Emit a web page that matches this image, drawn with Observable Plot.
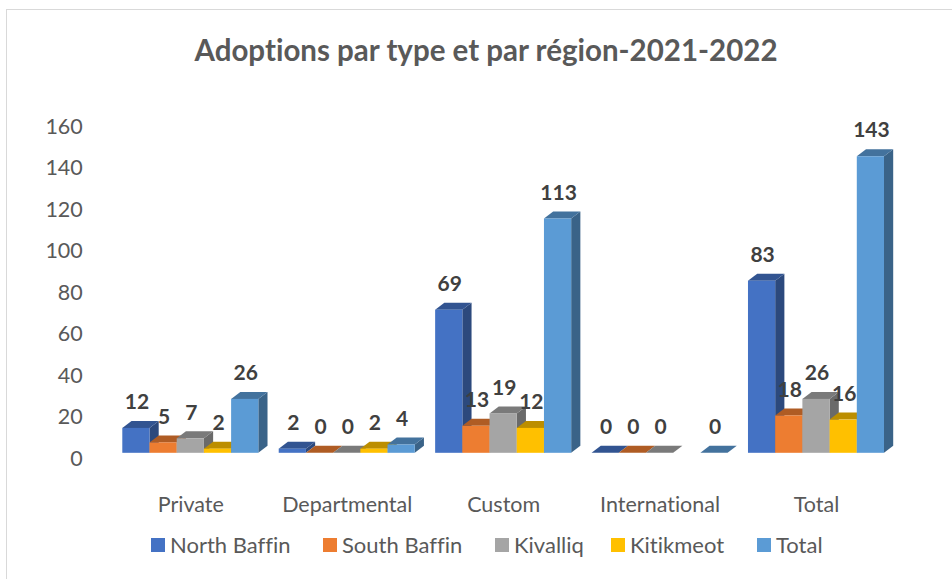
<!DOCTYPE html>
<html>
<head>
<meta charset="utf-8">
<script src="https://cdn.jsdelivr.net/npm/d3@7"></script>
<script src="https://cdn.jsdelivr.net/npm/@observablehq/plot@0.6"></script>
<style>
  html, body { margin: 0; padding: 0; background: #fff; }
  #page { position: relative; width: 952px; height: 579px; overflow: hidden; font-family: Lato, sans-serif; font-variant-ligatures: none; }
  #frame { position: absolute; left: 6px; top: 9px; width: 960px; height: 600px; border: 1px solid #d9d9d9; box-sizing: border-box; }
  #title { position: absolute; left: 0; top: 30px; width: 972px; text-align: center; font-size: 29.5px; font-weight: 700; color: #595959; line-height: 40px; }
  #chart { position: absolute; left: 0; top: 90px; }
  #legend { position: absolute; left: 0; top: 530px; width: 952px; height: 30px; font-size: 22px; color: #595959; line-height: 30px; }
  #legend span.k { position: absolute; top: 0; white-space: nowrap; }
  #legend i { position: absolute; top: 8px; width: 14px; height: 14px; }
</style>
</head>
<body>
<div id="page">
  <div id="frame"></div>
  <div id="title">Adoptions par type et par région-2021-2022</div>
  <div id="chart"></div>
  <div id="legend"></div>
</div>
<script>
const types = ["Private", "Departmental", "Custom", "International", "Total"];
const regions = ["North Baffin", "South Baffin", "Kivalliq", "Kitikmeot", "Total"];
const colors = ["#4472c4", "#ed7d31", "#a5a5a5", "#ffc000", "#5b9bd5"];
const northBaffin = [12, 2, 69, 0, 83];
const southBaffin = [5, 0, 13, 0, 18];
const kivalliq = [7, 0, 19, 0, 26];
const kitikmeot = [2, 2, 12, null, 16];
const totalSeries = [26, 4, 113, 0, 143];
const yTicks = [0, 20, 40, 60, 80, 100, 120, 140, 160];
const legendLeft = [151, 323, 495, 611, 757];

const seriesValues = [northBaffin, southBaffin, kivalliq, kitikmeot, totalSeries];
const rows = [];
regions.forEach((r, ri) => types.forEach((t, ti) => {
  const v = seriesValues[ri][ti];
  if (v != null) rows.push({type: t, region: r, value: v});
}));

const depthX = 9.2, depthY = 7;
const shade = (c, k) => d3.color(c).darker(k).formatHex();
function withDepth(index, scales, values, dimensions, context, next) {
  const g = next(index, scales, values, dimensions, context);
  const ns = "http://www.w3.org/2000/svg";
  const rects = Array.from(g.querySelectorAll("rect"));
  rects.forEach(rect => {
    const x = +rect.getAttribute("x"), y = +rect.getAttribute("y");
    const w = +rect.getAttribute("width"), h = +rect.getAttribute("height");
    const fill = rect.getAttribute("fill");
    const tx = rect.getAttribute("transform");
    const add = (pts, col) => {
      const p = document.createElementNS(ns, "polygon");
      p.setAttribute("points", pts.map(a => a.join(",")).join(" "));
      p.setAttribute("fill", col);
      if (tx) p.setAttribute("transform", tx);
      rect.parentNode.insertBefore(p, rect);
    };
    add([[x + w, y], [x + w + depthX, y - depthY], [x + w + depthX, y + h - depthY], [x + w, y + h]], shade(fill, 1.25));
    add([[x, y], [x + depthX, y - depthY], [x + w + depthX, y - depthY], [x + w, y]], shade(fill, 0.85));
  });
  return g;
}

const plot = Plot.plot({
  width: 952,
  height: 430,
  marginLeft: 122.3,
  marginRight: 68,
  marginTop: 20,
  marginBottom: 40,
  style: {background: "transparent", fontFamily: "Lato, sans-serif", fontVariantLigatures: "none"},
  fx: {domain: types, padding: 0.1304, round: false, axis: null},
  x: {domain: regions, padding: 0, round: false, axis: null},
  y: {domain: [0, 160], range: [362.8, 31], axis: null},
  color: {domain: regions, range: colors},
  marks: [
    Plot.barY(rows, {fx: "type", x: "region", y1: () => 0, y2: "value", fill: "region", render: withDepth}),
    Plot.text(rows, {fx: "type", x: "region", y: "value", text: d => String(d.value), dy: -26, dx: 0.5, fontSize: 21, fontWeight: 700, fill: "#404040"}),
    Plot.axisY(yTicks, {anchor: "left", tickSize: 0, tickPadding: 0, dx: -40, dy: 5.5, fontSize: 21.5, fill: "#595959", tickFormat: d => String(d), label: null}),
    Plot.axisFx({anchor: "bottom", tickSize: 0, tickPadding: 0, dy: 16, fontSize: 21.5, fill: "#595959", label: null})
  ]
});
document.getElementById("chart").appendChild(plot);

const legend = document.getElementById("legend");
regions.forEach((r, i) => {
  const sw = document.createElement("i");
  sw.style.left = legendLeft[i] + "px";
  sw.style.background = colors[i];
  legend.appendChild(sw);
  const s = document.createElement("span");
  s.className = "k";
  s.style.left = (legendLeft[i] + 19) + "px";
  s.textContent = r;
  legend.appendChild(s);
});
</script>
</body>
</html>
